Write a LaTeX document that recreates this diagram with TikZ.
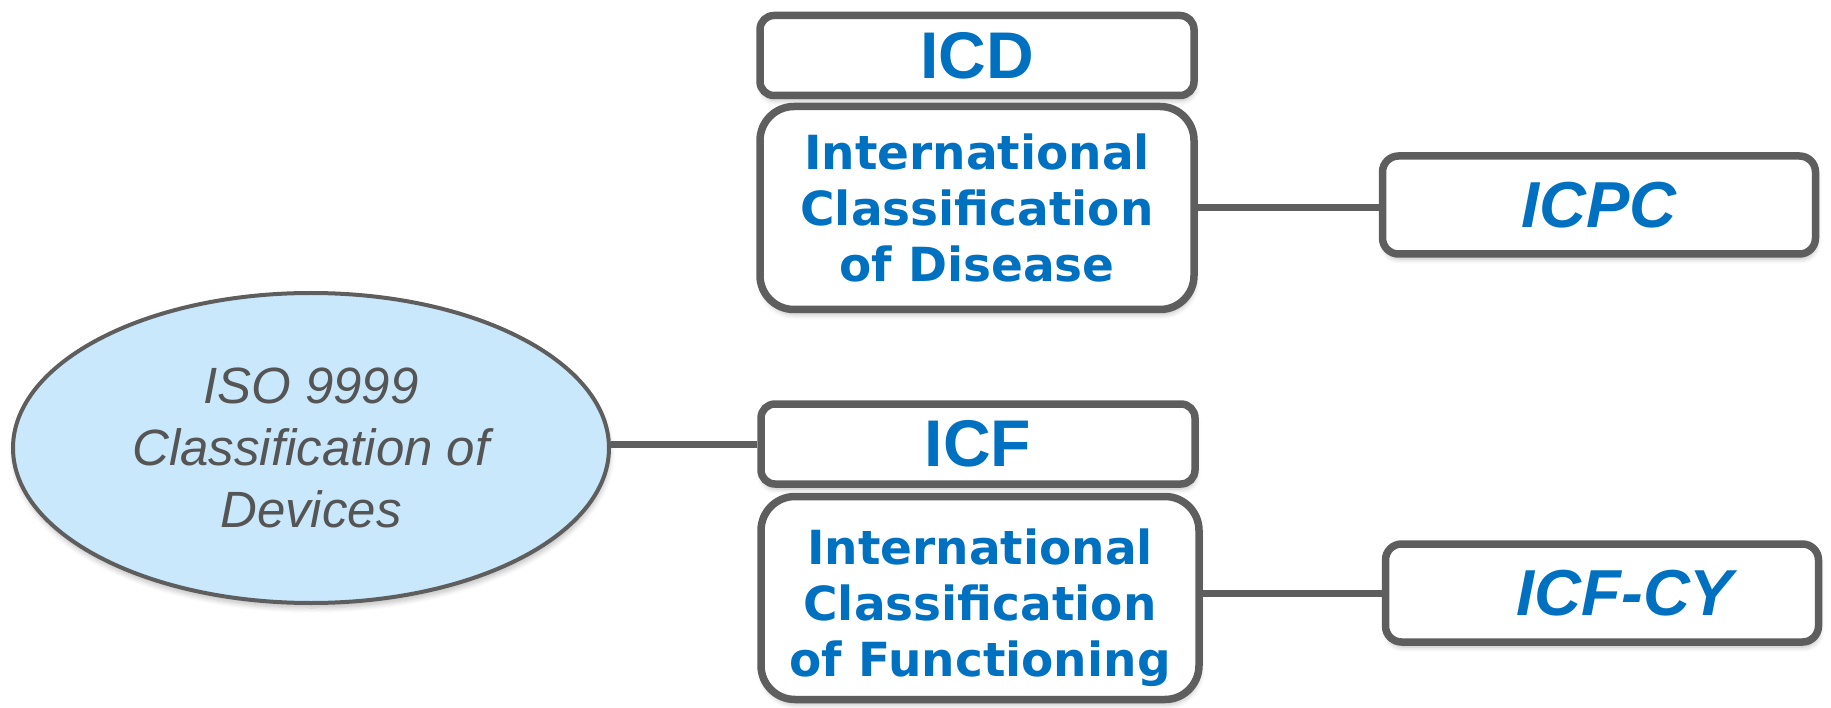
\documentclass[tikz,border=0pt]{standalone}
\usepackage{fontspec}
\setmainfont{Liberation Sans}
\newfontfamily\dejavu{DejaVu Sans}
\usetikzlibrary{shapes.geometric,shadows.blur}
\definecolor{txtblue}{HTML}{0070C0}
\definecolor{edgegray}{HTML}{5E5E5E}
\definecolor{ellfill}{HTML}{CAE8FB}
\definecolor{elltext}{HTML}{555555}
\tikzset{
  shade/.style={blur shadow={shadow xshift=1pt, shadow yshift=-5pt, shadow blur steps=6, shadow opacity=25, shadow blur radius=5pt}},
  headbox/.style={draw=edgegray, line width=7.5pt, fill=white, rounded corners=14pt, shade,
    minimum width=434pt, minimum height=80pt, inner sep=0pt, text=txtblue,
    font=\fontsize{66}{70}\selectfont\bfseries},
  bodybox/.style={draw=edgegray, line width=7.5pt, fill=white, rounded corners=34pt, shade,
    minimum width=434pt, minimum height=203pt, inner sep=0pt, text=txtblue, align=center,
    font=\dejavu\fontsize{47}{56}\selectfont\bfseries},
  bodytext/.style={inner sep=0pt, text=txtblue, align=center,
    font=\dejavu\fontsize{47}{56}\selectfont\bfseries},
  sidebox/.style={draw=edgegray, line width=7.5pt, fill=white, rounded corners=16pt, shade,
    minimum width=433pt, minimum height=98pt, inner sep=0pt, text=txtblue,
    font=\fontsize{65}{70}\selectfont\bfseries\itshape},
  ellbox/.style={ellipse, draw=edgegray, line width=4pt, fill=ellfill, shade,
    minimum width=596pt, minimum height=310pt, inner sep=0pt, text=elltext, align=center,
    font=\fontsize{51}{62}\selectfont\itshape},
  link/.style={draw=edgegray, line width=7pt}
}
\begin{document}
\begin{tikzpicture}[x=1pt,y=-1pt]
\useasboundingbox (0,0) rectangle (1831,708);
\node[ellbox] (ell) at (311,448) {ISO 9999\\Classification of\\Devices};
\node[sidebox] (icpc) at (1599,205) {ICPC};
\node[sidebox] (icfcy) at (1602,593) {\hspace*{46pt}ICF-CY};
\node[headbox] (icd) at (977,55.5) {ICD};
\node[bodybox] (icdbody) at (977,208) {International\\Classification\\of Disease};
\node[headbox] (icf) at (978,444) {ICF};
\node[bodybox, minimum width=438pt] (icfbody) at (980,598) {};
\node[bodytext] (icfbodytext) at (980,608) {International\\Classification\\of Functioning};
\draw[link] (icdbody.east) -- (icdbody.east -| icpc.west);
\draw[link] (icfbody.east |- icfcy.west) -- (icfcy.west);
\draw[link] (ell.east |- icf.west) -- (icf.west);
\end{tikzpicture}
\end{document}
